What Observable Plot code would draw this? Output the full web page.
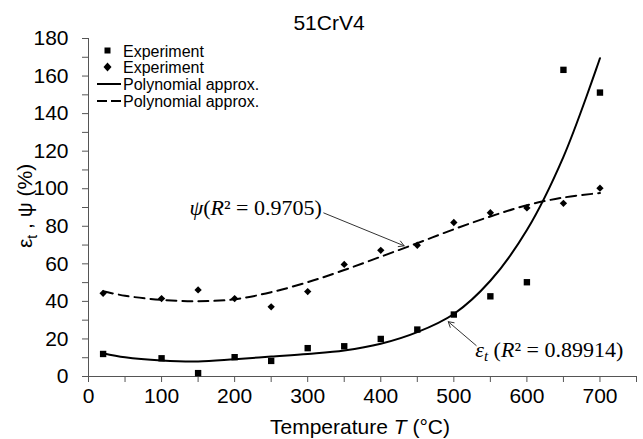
<!DOCTYPE html>
<html>
<head>
<meta charset="utf-8">
<script src="https://cdn.jsdelivr.net/npm/d3@7"></script>
<script src="https://cdn.jsdelivr.net/npm/@observablehq/plot@0.6"></script>
<style>
  html, body { margin: 0; padding: 0; background: #fff; }
  svg { display: block; }
</style>
</head>
<body>
<div id="chart"></div>
<script>
// Experimental data
const temperature = [20, 100, 150, 200, 250, 300, 350, 400, 450, 500, 550, 600, 650, 700];
const epsilonT = [12, 9.7, 1.8, 10.3, 8.3, 15.1, 16.1, 20, 25, 33, 42.7, 50.2, 163.3, 151.2];
const psi = [44.3, 41.5, 46.1, 41.5, 37.1, 45.2, 59.7, 67.2, 69.9, 82, 87.2, 89.8, 92.2, 100.3];

// Polynomial approximation curves
const fitTemperature = [20, 50, 100, 150, 200, 250, 300, 350, 400, 450, 500, 550, 600, 650, 700];
const epsilonFit = [12.4, 10.2, 8.5, 8.0, 9.2, 10.6, 12, 13.8, 17.4, 23.6, 33.3, 51, 78, 117, 169.5];
const psiFit = [45.4, 43, 40.8, 40.1, 41.1, 44.9, 50.2, 56.7, 63.8, 71, 78.4, 85.2, 91.2, 95.3, 97.7];

// Axis ticks
const xTicks = [0, 100, 200, 300, 400, 500, 600, 700];
const xMinorTicks = [0, 50, 100, 150, 200, 250, 300, 350, 400, 450, 500, 550, 600, 650, 700, 750];
const yTicks = [0, 20, 40, 60, 80, 100, 120, 140, 160, 180];
const yMinorTicks = [0, 10, 20, 30, 40, 50, 60, 70, 80, 90, 100, 110, 120, 130, 140, 150, 160, 170, 180];

// Annotations (data coordinates)
const annotations = [
  {key: "psi", x1: 322, y1: 87.1, x2: 432, y2: 69.6, tx: 320, ty: 85.5, anchor: "end"},
  {key: "eps", x1: 530.6, y1: 16.5, x2: 492.3, y2: 29.2, tx: 530, ty: 10.1, anchor: "start"}
];

const points = temperature.map((t, i) => ({t, eps: epsilonT[i], psi: psi[i]}));
const fit = fitTemperature.map((t, i) => ({t, eps: epsilonFit[i], psi: psiFit[i]}));

const sans = "'Liberation Sans', Arial, Helvetica, sans-serif";
const serif = "'Liberation Serif', 'Times New Roman', serif";
const axisColor = "#555";

const plot = Plot.plot({
  width: 643,
  height: 439,
  marginTop: 38,
  marginLeft: 88,
  marginRight: 7,
  marginBottom: 63,
  style: {fontFamily: sans, fontSize: "21px", color: "black", background: "white"},
  x: {domain: [0, 750]},
  y: {domain: [0, 180]},
  marks: [
    Plot.axisX({ticks: xMinorTicks, tickSize: 6, tickPadding: 6, fontSize: 21,
      tickFormat: d => xTicks.includes(d) ? String(d) : "", label: null, stroke: axisColor, fill: "black"}),
    Plot.axisY({ticks: yMinorTicks, tickSize: 6, tickPadding: 14, fontSize: 21,
      tickFormat: d => yTicks.includes(d) ? String(d) : "", label: null, stroke: axisColor, fill: "black"}),
    Plot.ruleX([0], {stroke: axisColor}),
    Plot.ruleY([0], {stroke: axisColor}),
    Plot.line(fit, {x: "t", y: "psi", curve: "catmull-rom", stroke: "black", strokeWidth: 2, strokeDasharray: "10,6"}),
    Plot.line(fit, {x: "t", y: "eps", curve: "catmull-rom", stroke: "black", strokeWidth: 2}),
    Plot.dot(points, {x: "t", y: "eps", symbol: "square", r: 3.6, fill: "black", stroke: "none"}),
    Plot.dot(points, {x: "t", y: "psi", symbol: "diamond2", r: 3.3, fill: "black", stroke: "none"}),
    Plot.arrow(annotations, {x1: "x1", y1: "y1", x2: "x2", y2: "y2", stroke: "#333", strokeWidth: 1, headLength: 9, bend: 0})
  ]
});

document.getElementById("chart").appendChild(plot);

const svg = d3.select(plot);
const xs = plot.scale("x");
const ys = plot.scale("y");

// Title
svg.append("text")
  .attr("x", 329).attr("y", 29.5)
  .attr("text-anchor", "middle")
  .style("font-family", sans).style("font-size", "21px")
  .text("51CrV4");

// X axis label
const xl = svg.append("text")
  .attr("x", 360).attr("y", 434)
  .attr("text-anchor", "middle")
  .style("font-family", sans).style("font-size", "21px");
xl.append("tspan").text("Temperature ");
xl.append("tspan").style("font-style", "italic").text("T");
xl.append("tspan").text(" (°C)");

// Y axis label
const yl = svg.append("text")
  .attr("transform", "translate(32,206) rotate(-90)")
  .attr("text-anchor", "middle")
  .style("font-family", sans).style("font-size", "21px");
yl.append("tspan").text("ε");
yl.append("tspan").attr("dy", 5).style("font-size", "14px").text("t");
yl.append("tspan").attr("dy", -5).text(" , ψ (%)");

// Legend
const legend = svg.append("g").attr("text-anchor", "start")
  .style("font-family", sans).style("font-size", "16px");
const rows = [
  {type: "square", label: "Experiment", y: 51},
  {type: "diamond", label: "Experiment", y: 67},
  {type: "solid", label: "Polynomial approx.", y: 84},
  {type: "dashed", label: "Polynomial approx.", y: 101}
];
rows.forEach(r => {
  if (r.type === "square") {
    legend.append("rect").attr("x", 104.5).attr("y", r.y - 3.5).attr("width", 6).attr("height", 6).attr("fill", "black");
  } else if (r.type === "diamond") {
    legend.append("path").attr("d", `M107.5,${r.y - 4.5}L111.5,${r.y}L107.5,${r.y + 4.5}L103.5,${r.y}Z`).attr("fill", "black");
  } else {
    legend.append("line").attr("x1", 97).attr("x2", 121).attr("y1", r.y).attr("y2", r.y)
      .attr("stroke", "black").attr("stroke-width", 2)
      .attr("stroke-dasharray", r.type === "dashed" ? "10,4" : null);
  }
  legend.append("text").attr("x", 123).attr("y", r.y).attr("dy", "0.35em")
    .attr("text-anchor", "start").text(r.label);
});

// Annotation labels
annotations.forEach(a => {
  const t = svg.append("text")
    .attr("x", xs.apply(a.tx)).attr("y", ys.apply(a.ty))
    .attr("text-anchor", a.anchor)
    .style("font-family", serif).style("font-size", "22px");
  if (a.key === "psi") {
    t.append("tspan").style("font-style", "italic").text("ψ");
    t.append("tspan").text("(");
    t.append("tspan").style("font-style", "italic").text("R");
    t.append("tspan").text("² = 0.9705)");
  } else {
    t.append("tspan").style("font-style", "italic").text("ε");
    t.append("tspan").attr("dy", 4).style("font-style", "italic").style("font-size", "15px").text("t");
    t.append("tspan").attr("dy", -4).text(" (");
    t.append("tspan").style("font-style", "italic").text("R");
    t.append("tspan").text("² = 0.89914)");
  }
});
</script>
</body>
</html>
